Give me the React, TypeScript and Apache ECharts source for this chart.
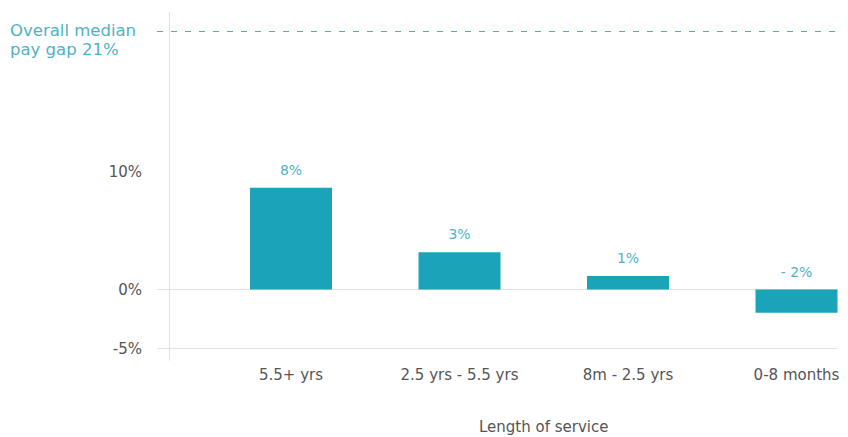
import React, { useEffect, useRef } from 'react';
import * as echarts from 'echarts';

const categories = ['5.5+ yrs', '2.5 yrs - 5.5 yrs', '8m - 2.5 yrs', '0-8 months'];
const payGap = [8.63, 3.15, 1.15, -1.98];
const barLabels = ['8%', '3%', '1%', '- 2%'];
const overallMedian = 21;
// level at which the reference draws the dashed "overall median" line
const medianLineLevel = 21.9;
const yTickLabels = [-5, 0, 10];
const gridLineValues = [0, -5];
const xAxisName = 'Length of service';
const medianLabel = ['Overall median', `pay gap ${overallMedian}%`];

const FONT = 'DejaVu Sans';
const TEAL = '#1ba3b9';
const TEAL_TEXT = '#4fb2c4';
const GREY_TEXT = '#555555';
const GRID_LINE = '#e2e2e2';

export default function App() {
  const ref = useRef<HTMLDivElement>(null);

  useEffect(() => {
    if (!ref.current) return;
    const chart = echarts.init(ref.current, undefined, { renderer: 'svg' });
    const gridPos = { top: 12.2, bottom: 76.7, outerBoundsMode: 'none', containLabel: false };
    const option: any = {
      animation: false,
      textStyle: { fontFamily: FONT },
      title: {
        text: medianLabel.join('\n'),
        left: 10,
        top: 20.5,
        padding: 0,
        textStyle: {
          color: TEAL_TEXT,
          fontSize: 16.5,
          fontWeight: 'normal',
          fontFamily: FONT,
          lineHeight: 19,
        },
      },
      grid: [
        { left: 157, right: 10, ...gridPos },
        { left: 206.75, width: 674, ...gridPos },
      ],
      xAxis: [
        { gridIndex: 0, type: 'category', data: [''], show: false },
        {
          gridIndex: 1,
          type: 'category',
          data: categories,
          axisLine: { show: false },
          axisTick: { show: false },
          axisLabel: { color: GREY_TEXT, fontSize: 15, margin: 7, fontFamily: FONT },
          name: xAxisName,
          nameLocation: 'middle',
          nameGap: 59,
          nameTextStyle: { color: GREY_TEXT, fontSize: 15, fontFamily: FONT },
        },
      ],
      yAxis: [
        {
          gridIndex: 0,
          type: 'value',
          min: -6,
          max: 23.5,
          interval: 0.5,
          axisLine: { show: false },
          axisTick: { show: false },
          splitLine: { show: false },
          axisLabel: {
            formatter: (v: number) => (yTickLabels.includes(v) ? `${v}%` : ''),
            margin: 15,
            color: GREY_TEXT,
            fontSize: 15,
            fontFamily: FONT,
          },
        },
        {
          gridIndex: 1,
          type: 'value',
          min: -6,
          max: 23.5,
          offset: 38,
          axisLine: { show: true, lineStyle: { color: GRID_LINE, width: 1 } },
          axisTick: { show: false },
          axisLabel: { show: false },
          splitLine: { show: false },
        },
      ],
      series: [
        {
          type: 'line',
          xAxisIndex: 0,
          yAxisIndex: 0,
          data: ['-'],
          silent: true,
          z: 0,
          markLine: {
            silent: true,
            z: 0,
            symbol: 'none',
            label: { show: false },
            data: [
              ...gridLineValues.map((v) => ({
                yAxis: v,
                lineStyle: { color: GRID_LINE, type: 'solid', width: 1 },
              })),
              {
                yAxis: medianLineLevel,
                lineStyle: { color: '#3db3cc', type: [6, 8], width: 1.2 },
              },
            ],
          },
        },
        {
          type: 'bar',
          xAxisIndex: 1,
          yAxisIndex: 1,
          data: payGap,
          barWidth: 82,
          z: 3,
          itemStyle: { color: TEAL },
          label: {
            show: true,
            position: 'top',
            distance: 11,
            color: TEAL_TEXT,
            fontSize: 14,
            fontFamily: FONT,
            formatter: (p: any) => barLabels[p.dataIndex],
          },
        },
      ],
    };
    chart.setOption(option);
    return () => chart.dispose();
  }, []);

  return (
    <div
      ref={ref}
      style={{ position: 'fixed', left: 0, top: 0, width: 848, height: 437, background: '#fff' }}
    />
  );
}
